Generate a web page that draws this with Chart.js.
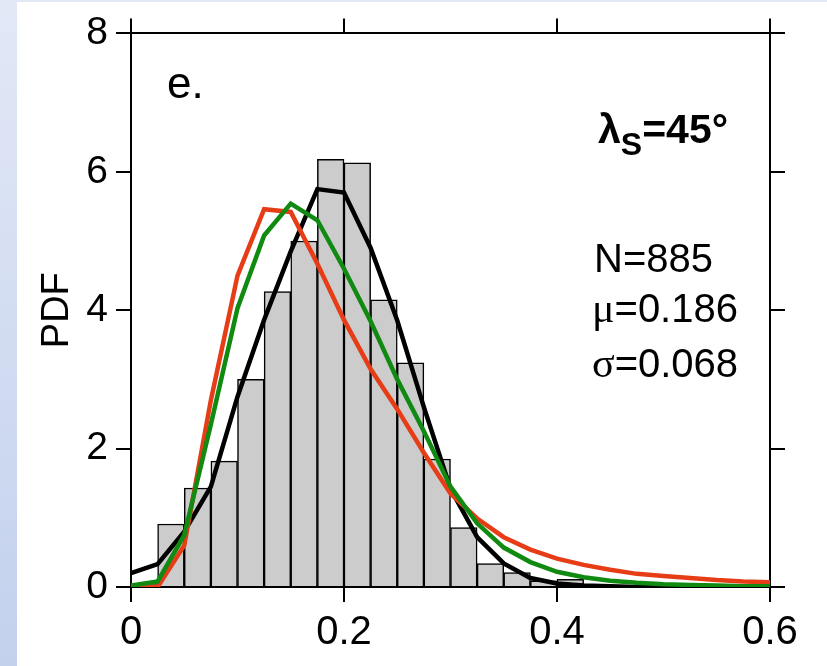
<!DOCTYPE html>
<html>
<head>
<meta charset="utf-8">
<script src="https://cdn.jsdelivr.net/npm/chart.js@4.4.1/dist/chart.umd.min.js"></script>
<style>
  html, body { margin: 0; padding: 0; }
  body { width: 827px; height: 666px; background: linear-gradient(to bottom, #e2e8f6, #c3d1ed); position: relative; overflow: hidden; }
  #wrap { position: absolute; left: 17px; top: 2px; width: 810px; height: 664px; background: #fff; }
</style>
</head>
<body>
<div id="wrap"><canvas id="pdf-chart" width="810" height="664"></canvas></div>
<script>
// --- histogram (bin left edges, width 0.025) ---
const binWidth = 0.025;
const binLeft = [0, 0.025, 0.05, 0.075, 0.1, 0.125, 0.15, 0.175, 0.2, 0.225, 0.25, 0.275, 0.3, 0.325, 0.35, 0.375, 0.4];
const binPdf  = [0.05, 0.91, 1.43, 1.82, 3.0, 4.27, 5.0, 6.18, 6.13, 4.15, 3.24, 1.85, 0.86, 0.34, 0.21, 0.09, 0.11];

// --- fitted curves ---
const curveX = [0, 0.025, 0.05, 0.075, 0.1, 0.125, 0.15, 0.175, 0.2, 0.225, 0.25, 0.275, 0.3,
                0.325, 0.35, 0.375, 0.4, 0.425, 0.45, 0.475, 0.5, 0.525, 0.55, 0.575, 0.6];
const blackFit = [0.2, 0.33, 0.8, 1.45, 2.75, 3.86, 4.85, 5.75, 5.7, 4.9, 3.85, 2.6, 1.42,
                  0.72, 0.34, 0.13, 0.05, 0.02, 0.01, 0, 0, 0, 0, 0, 0];
const redFit   = [0, 0, 0.6, 2.7, 4.5, 5.46, 5.42, 4.67, 3.86, 3.15, 2.57, 1.94, 1.35,
                  0.99, 0.72, 0.54, 0.41, 0.32, 0.25, 0.19, 0.16, 0.13, 0.1, 0.08, 0.07];
const greenFit = [0.02, 0.08, 0.75, 2.35, 4.03, 5.08, 5.54, 5.3, 4.6, 3.84, 3.0, 2.25, 1.45,
                  0.92, 0.57, 0.36, 0.22, 0.14, 0.09, 0.06, 0.04, 0.03, 0.02, 0.01, 0.01];

// --- axes ---
const xTicks = [0, 0.2, 0.4, 0.6];
const yTicks = [0, 2, 4, 6, 8];

const FONT = '"Liberation Sans", Arial, Helvetica, sans-serif';

const toPoints = (xs, ys) => xs.map((x, i) => ({ x: x, y: ys[i] }));

// panel annotations drawn on top
const textPlugin = {
    id: 'panelText',
    afterDatasetsDraw(chart) {
        const ctx = chart.ctx;
        ctx.save();
        ctx.fillStyle = '#000';
        ctx.textBaseline = 'alphabetic';
        ctx.textAlign = 'left';

        ctx.font = '44px ' + FONT;
        ctx.fillText('e.', 150, 96);

        // lambda_S = 45 deg
        let x = 581;
        ctx.font = 'bold 41px ' + FONT;
        ctx.fillText('λ', x, 141);
        x += ctx.measureText('λ').width;
        ctx.font = 'bold 32px ' + FONT;
        ctx.fillText('S', x, 153);
        x += ctx.measureText('S').width;
        ctx.font = 'bold 41px ' + FONT;
        ctx.fillText('=45°', x, 141);

        // stats
        ctx.font = '40px ' + FONT;
        ctx.fillText('N=885', 577, 270);

        const lines = [['μ', '=0.186', 320], ['σ', '=0.068', 375]];
        lines.forEach(([sym, rest, y]) => {
            ctx.font = '42px "Liberation Serif", "Times New Roman", serif';
            ctx.fillText(sym, 575, y);
            const w = ctx.measureText(sym).width;
            ctx.font = '40px ' + FONT;
            ctx.fillText(rest, 575 + w, y);
        });
        ctx.restore();
    }
};

const tickGrid = {
    drawOnChartArea: false,
    drawTicks: true,
    offset: false,
    tickLength: 15,
    color: '#000',
    lineWidth: 2
};
const axisBorder = { display: true, color: '#000', width: 2 };

new Chart(document.getElementById('pdf-chart').getContext('2d'), {
    type: 'line',
    data: {
        datasets: [
            {
                label: 'green',
                data: toPoints(curveX, greenFit),
                borderColor: '#108a10',
                borderWidth: 4.5,
                pointRadius: 0,
                tension: 0,
                order: 1
            },
            {
                label: 'red',
                data: toPoints(curveX, redFit),
                borderColor: '#e63d17',
                borderWidth: 4.5,
                pointRadius: 0,
                tension: 0,
                order: 2
            },
            {
                label: 'black',
                data: toPoints(curveX, blackFit),
                borderColor: '#000',
                borderWidth: 4.5,
                pointRadius: 0,
                tension: 0,
                order: 3
            },
            {
                type: 'bar',
                label: 'histogram',
                data: binLeft.map((b, i) => ({ x: b + binWidth / 2, y: binPdf[i] })),
                backgroundColor: '#cccccc',
                borderColor: '#000',
                borderWidth: 1.5,
                borderSkipped: 'bottom',
                barPercentage: 1,
                categoryPercentage: 1,
                order: 4
            }
        ]
    },
    options: {
        responsive: false,
        animation: false,
        events: [],
        layout: { padding: 0 },
        plugins: {
            legend: { display: false },
            tooltip: { enabled: false }
        },
        scales: {
            x: {
                type: 'linear',
                position: 'bottom',
                min: 0, max: 0.6,
                offset: false,
                afterBuildTicks: s => { s.ticks = xTicks.map(v => ({ value: v })); },
                ticks: {
                    color: '#000',
                    font: { family: FONT, size: 40 },
                    padding: 7,
                    maxRotation: 0,
                    autoSkip: false,
                    callback: v => String(v)
                },
                grid: tickGrid,
                border: axisBorder,
                afterFit: s => { s.height = 79; }
            },
            x2: {
                type: 'linear',
                position: 'top',
                min: 0, max: 0.6,
                offset: false,
                afterBuildTicks: s => { s.ticks = xTicks.map(v => ({ value: v })); },
                ticks: { display: false },
                grid: tickGrid,
                border: axisBorder,
                afterFit: s => { s.height = 28; }
            },
            y: {
                position: 'left',
                min: 0, max: 8,
                afterBuildTicks: s => { s.ticks = yTicks.map(v => ({ value: v })); },
                ticks: {
                    color: '#000',
                    font: { family: FONT, size: 39 },
                    padding: 8
                },
                title: {
                    display: true,
                    text: 'PDF',
                    color: '#000',
                    font: { family: FONT, size: 38 },
                    padding: { top: 18, bottom: 0 }
                },
                grid: tickGrid,
                border: axisBorder,
                afterFit: s => { s.width = 114; }
            },
            y2: {
                position: 'right',
                min: 0, max: 8,
                afterBuildTicks: s => { s.ticks = yTicks.map(v => ({ value: v })); },
                ticks: { display: false },
                grid: tickGrid,
                border: axisBorder,
                afterFit: s => { s.width = 57; }
            }
        }
    },
    plugins: [textPlugin]
});
</script>
</body>
</html>
